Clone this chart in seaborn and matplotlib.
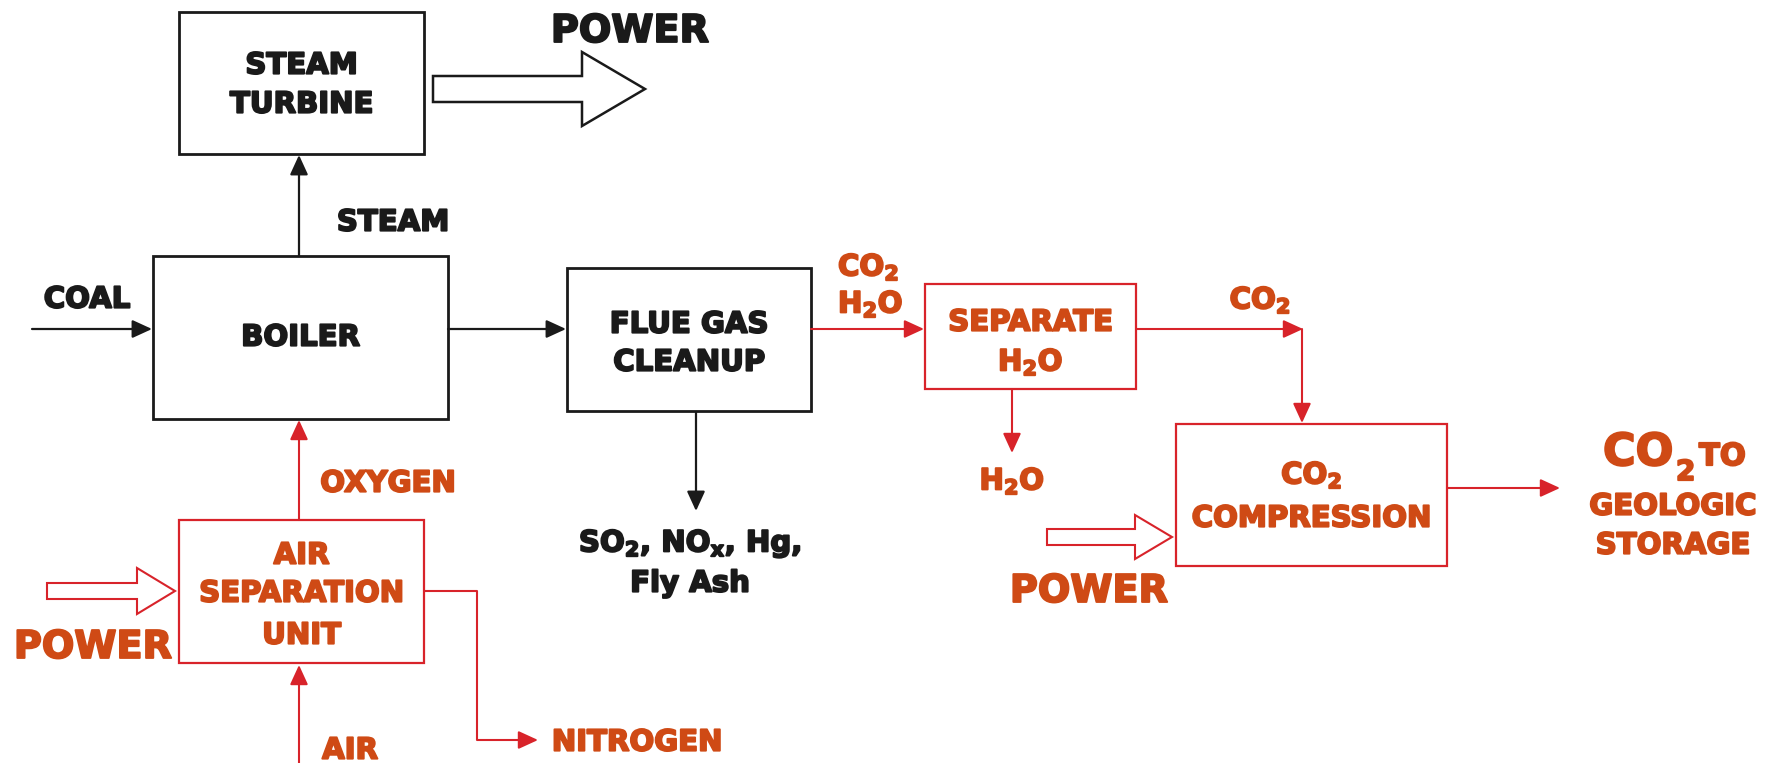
import matplotlib
matplotlib.use("Agg")
import matplotlib.pyplot as plt
import matplotlib.patheffects as pe
from matplotlib.patches import Rectangle, Polygon
import seaborn as sns

sns.set_theme(style="white")
plt.rcParams["font.family"] = ["DejaVu Sans"]
plt.rcParams["mathtext.fontset"] = "dejavusans"

BLACK = "#1a1a1a"
RED = "#d8232a"
ORANGE = "#cf4a15"

# process units: text lines, line centres, box corners (image pixels)
unit_lines = [
    ["STEAM", "TURBINE"],
    ["BOILER"],
    ["FLUE GAS", "CLEANUP"],
    ["SEPARATE", r"$\mathbf{H_2O}$"],
    [r"$\mathbf{CO_2}$", "COMPRESSION"],
    ["AIR", "SEPARATION", "UNIT"],
]
unit_line_y = [[63, 102], [335], [322, 360], [320, 360], [473, 516], [553, 591, 633]]
unit_boxes = [(179, 12, 424, 154), (153, 256, 448, 419), (567, 268, 811, 411),
              (925, 284, 1136, 389), (1176, 424, 1447, 566), (179, 520, 424, 663)]
unit_colors = [BLACK, BLACK, BLACK, RED, RED, RED]

# thin stream arrows (polyline, arrow on last segment)
stream_paths = [
    [(32, 329), (152, 329)],                          # coal
    [(299, 256), (299, 155)],                         # steam
    [(448, 329), (566, 329)],                         # flue gas
    [(696, 412), (696, 511)],                         # SO2, NOx ...
    [(811, 329), (924, 329)],                         # CO2 / H2O
    [(1136, 329), (1303, 329)],                       # CO2
    [(1302, 329), (1302, 423)],                       # CO2 down
    [(1012, 389), (1012, 453)],                       # H2O out
    [(299, 520), (299, 420)],                         # oxygen
    [(299, 763), (299, 665)],                         # air
    [(424, 591), (477, 591), (477, 740), (538, 740)],  # nitrogen
    [(1447, 488), (1560, 488)],                       # to storage
]
stream_colors = [BLACK, BLACK, BLACK, BLACK, RED, RED, RED, RED, RED, RED, RED, RED]

# hollow power arrows: tail x, head start x, tip x, centre y, body half, head half
power_arrows = [(433, 582, 645, 89, 13, 37), (47, 137, 175, 591, 8, 23),
                (1047, 1135, 1172, 537, 8, 22)]
power_colors = [BLACK, RED, RED]

# free labels: text, x, y, size, colour, alignment
label_text = ["POWER", "STEAM", "COAL", r"$\mathbf{CO_2}$", r"$\mathbf{H_2O}$",
              r"$\mathbf{CO_2}$", r"$\mathbf{H_2O}$", r"$\mathbf{SO_2}$, $\mathbf{NO_x}$, Hg,", "Fly Ash",
              "OXYGEN", "POWER", "AIR", "NITROGEN", "POWER",
              "CO", "2", "TO", "GEOLOGIC", "STORAGE"]
label_x = [630, 393, 87, 838, 838, 1260, 1012, 690, 690,
           388, 93, 350, 637, 1089, 1603, 1676, 1699, 1673, 1673]
label_y = [28, 220, 297, 265, 302, 298, 479, 541, 581,
           481, 644, 748, 740, 588, 449, 470, 454, 504, 543]
label_size = [27.5, 21, 21, 21, 21, 21, 21, 21, 21,
              21, 27.5, 21, 21, 27.5, 32, 20, 22, 21, 21]
label_color = [BLACK, BLACK, BLACK, ORANGE, ORANGE, ORANGE, ORANGE, BLACK, BLACK,
               ORANGE, ORANGE, ORANGE, ORANGE, ORANGE, ORANGE, ORANGE, ORANGE, ORANGE, ORANGE]
label_ha = (["center"] * 3 + ["left", "left"] + ["center"] * 9
            + ["left", "left", "left", "center", "center"])

fig = plt.figure(figsize=(17.75, 7.63), dpi=100)
ax = fig.add_axes([0, 0, 1, 1])
ax.set_xlim(0, 1775)
ax.set_ylim(763, 0)
ax.axis("off")


def put_text(x, y, s, size, color, ha="center"):
    px = size * 100 / 72
    ax.text(x, y + 0.365 * px, s, fontsize=size, color=color, ha=ha,
            va="baseline", fontweight="bold",
            path_effects=[pe.withStroke(linewidth=1.4, foreground=color)])


for lines, ys, (x0, y0, x1, y1), c in zip(unit_lines, unit_line_y, unit_boxes, unit_colors):
    lw = 2.0 if c == BLACK else 1.6
    ax.add_patch(Rectangle((x0, y0), x1 - x0, y1 - y0, fill=False, edgecolor=c, lw=lw))
    tc = BLACK if c == BLACK else ORANGE
    for s, y in zip(lines, ys):
        put_text((x0 + x1) / 2, y, s, 21, tc)

for path, c in zip(stream_paths, stream_colors):
    lw = 1.6 if c == BLACK else 1.5
    if len(path) > 2:
        xs, ys = zip(*path[:-1])
        ax.plot(xs, ys, color=c, lw=lw, solid_capstyle="butt")
    ax.annotate("", xy=path[-1], xytext=path[-2],
                arrowprops=dict(arrowstyle="-|>,head_length=1.2,head_width=0.55",
                                mutation_scale=10, color=c, lw=lw,
                                shrinkA=0, shrinkB=0))

for (tail, hs, tip, cy, bh, hh), c in zip(power_arrows, power_colors):
    pts = [(tail, cy - bh), (hs, cy - bh), (hs, cy - hh), (tip, cy),
           (hs, cy + hh), (hs, cy + bh), (tail, cy + bh)]
    ax.add_patch(Polygon(pts, closed=True, facecolor="white", edgecolor=c,
                         lw=1.8 if c == BLACK else 1.5, joinstyle="miter"))

for s, x, y, size, c, ha in zip(label_text, label_x, label_y, label_size, label_color, label_ha):
    put_text(x, y, s, size, c, ha)

fig.savefig("out.png", dpi=100, facecolor="white")
